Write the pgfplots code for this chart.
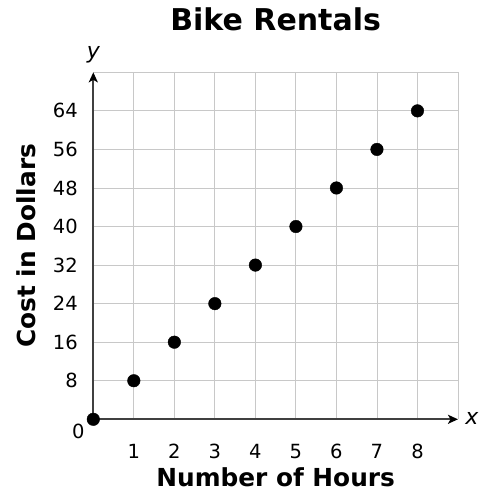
\documentclass[border=0pt]{standalone}
\usepackage{fontspec}
\setmainfont{DejaVu Sans}
\usepackage{pgfplots}
\pgfplotsset{compat=1.18}
\usetikzlibrary{arrows.meta}
\definecolor{gridgray}{RGB}{200,200,200}
\definecolor{axisgray}{RGB}{64,64,64}
\begin{document}
\begin{tikzpicture}
\path[use as bounding box] (-93.3pt,-80.7pt) rectangle (392.7pt,419.3pt);
\begin{axis}[
  at={(0pt,0pt)}, anchor=origin,
  scale only axis, width=364.7pt, height=347pt,
  xmin=0, xmax=9, ymin=0, ymax=72,
  axis lines=left,
  axis line style={draw=axisgray, line width=2pt, -{Stealth[length=10pt,width=9pt,inset=2.5pt,color=black,fill=black]}},
  xtick={1,...,9}, xticklabels={1,2,3,4,5,6,7,8,{}},
  ytick={8,16,...,72}, yticklabels={8,16,24,32,40,48,56,64,{}},
  grid=major, major grid style={draw=gridgray, line width=0.9pt},
  major tick length=0pt,
  /pgf/number format/assume math mode=true,
  tick label style={font=\fontsize{19.5}{21}\selectfont},
  xticklabel style={yshift=-21pt},
  yticklabel style={xshift=-12pt},
  title={\textbf{Bike Rentals}},
  title style={font=\fontsize{30}{32}\selectfont, at={(axis description cs:0.5,1.1363)}, anchor=center},
  xlabel={\textbf{Number of Hours}},
  xlabel style={font=\fontsize{24.8}{26}\selectfont, at={(axis description cs:0.5,-0.1663)}, anchor=center},
  ylabel={\textbf{Cost in Dollars}},
  ylabel style={font=\fontsize{24.8}{26}\selectfont, at={(axis description cs:-0.1837,0.5)}, anchor=center},
  clip=false,
]
\addplot[only marks, mark=*, mark size=6.3pt, black] coordinates {
  (0,0) (1,8) (2,16) (3,24) (4,32) (5,40) (6,48) (7,56) (8,64)
};
\node[font=\fontsize{22}{24}\selectfont\itshape] at (axis cs:0,72) [yshift=18pt] {y};
\node[font=\fontsize{22}{24}\selectfont\itshape] at (axis cs:9,0) [xshift=14pt,yshift=1pt] {x};
\node[font=\fontsize{19.5}{21}\selectfont] at (axis cs:0,0) [xshift=-15pt,yshift=-12.4pt] {0};
\end{axis}
\end{tikzpicture}
\end{document}
